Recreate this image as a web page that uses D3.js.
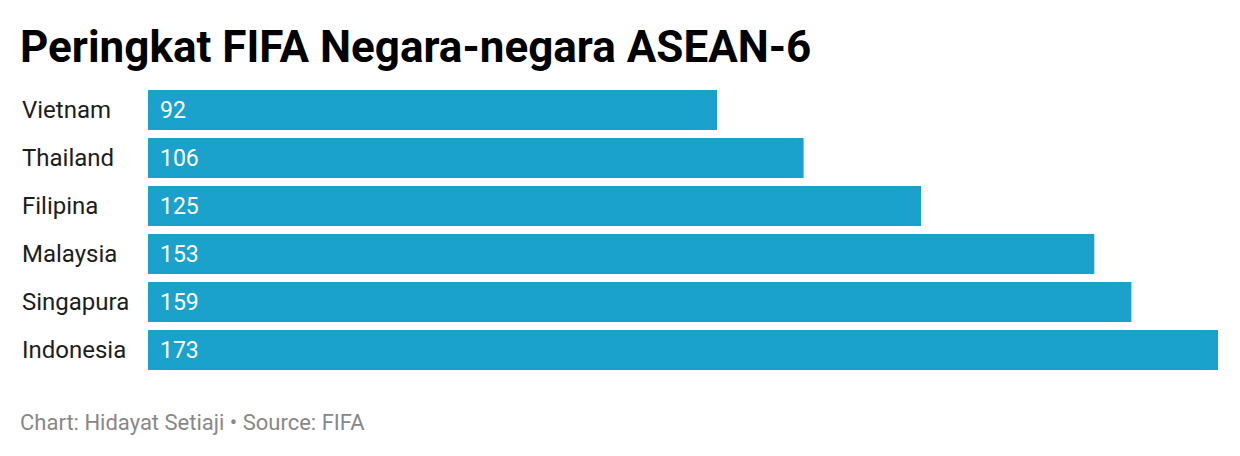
<!DOCTYPE html>
<html><head><meta charset="utf-8">
<script src="https://cdn.jsdelivr.net/npm/d3@7"></script>
<style>body{margin:0;background:#fff;} svg{display:block;}</style>
</head><body>
<script>
const categories = ["Vietnam","Thailand","Filipina","Malaysia","Singapura","Indonesia"];
const values = [92,106,125,153,159,173];
const titleText = "Peringkat FIFA Negara-negara ASEAN-6";
const footerText = "Chart: Hidayat Setiaji \u2022 Source: FIFA";

const W = 1240, H = 456;
const svg = d3.select("body").append("svg").attr("width", W).attr("height", H);
svg.append("rect").attr("width", W).attr("height", H).attr("fill", "#fff");

svg.append("text").attr("x", 20).attr("y", 62)
  .attr("font-family", "Roboto").attr("font-weight", 700).attr("font-size", 44)
  .attr("fill", "#000").text(titleText);

const x = d3.scaleLinear().domain([0, d3.max(values)]).range([148, 1218]);
const y = d3.scaleBand().domain(categories).range([90, 370]).paddingInner(1/6).paddingOuter(0);

const data = categories.map((c, i) => ({c, v: values[i]}));
const g = svg.append("g");
g.selectAll("rect.bar").data(data).join("rect").attr("class","bar")
  .attr("x", x(0)).attr("y", d => y(d.c)).attr("width", d => x(d.v) - x(0)).attr("height", y.bandwidth())
  .attr("fill", "#1aa2cc");
g.selectAll("text.lab").data(data).join("text").attr("class","lab")
  .attr("x", 22).attr("y", d => y(d.c) + y.bandwidth()/2).attr("dy", "0.35em")
  .attr("font-family", "Roboto").attr("font-size", 24).attr("fill", "#1d1d1d").text(d => d.c);
g.selectAll("text.val").data(data).join("text").attr("class","val")
  .attr("x", x(0) + 12).attr("y", d => y(d.c) + y.bandwidth()/2).attr("dy", "0.35em")
  .attr("font-family", "Roboto").attr("font-size", 23).attr("fill", "#fff").text(d => d.v);

svg.append("text").attr("x", 20).attr("y", 430)
  .attr("font-family", "Roboto").attr("font-size", 22).attr("fill", "#888").text(footerText);
</script>
</body></html>
